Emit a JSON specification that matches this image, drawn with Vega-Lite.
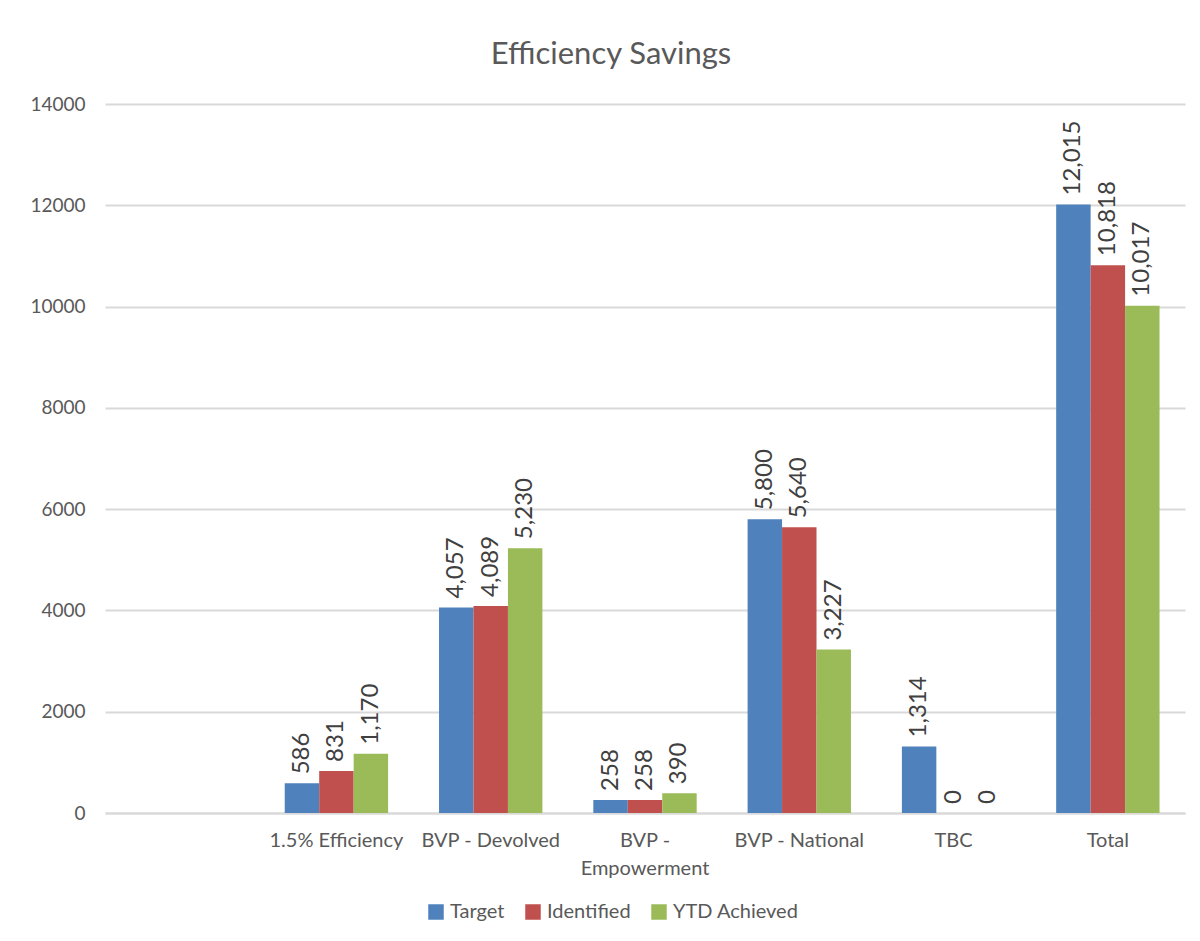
{
  "$schema": "https://vega.github.io/schema/vega-lite/v6.json",
  "width": 1080,
  "height": 709,
  "autosize": {"type": "none"},
  "padding": {"left": 105, "top": 104, "right": 15, "bottom": 128},
  "background": "white",
  "config": {
    "font": "Lato",
    "view": {"stroke": null}
  },
  "title": {
    "text": "Efficiency Savings",
    "fontSize": 31,
    "fontWeight": "normal",
    "color": "#595959",
    "font": "Lato",
    "anchor": "middle",
    "dx": -34,
    "offset": 24
  },
  "data": {
    "values": [
      {"category": "1.5% Efficiency", "series": "Target", "value": 586},
      {"category": "1.5% Efficiency", "series": "Identified", "value": 831},
      {"category": "1.5% Efficiency", "series": "YTD Achieved", "value": 1170},
      {"category": "BVP - Devolved", "series": "Target", "value": 4057},
      {"category": "BVP - Devolved", "series": "Identified", "value": 4089},
      {"category": "BVP - Devolved", "series": "YTD Achieved", "value": 5230},
      {"category": "BVP - Empowerment", "series": "Target", "value": 258},
      {"category": "BVP - Empowerment", "series": "Identified", "value": 258},
      {"category": "BVP - Empowerment", "series": "YTD Achieved", "value": 390},
      {"category": "BVP - National", "series": "Target", "value": 5800},
      {"category": "BVP - National", "series": "Identified", "value": 5640},
      {"category": "BVP - National", "series": "YTD Achieved", "value": 3227},
      {"category": "TBC", "series": "Target", "value": 1314},
      {"category": "TBC", "series": "Identified", "value": 0},
      {"category": "TBC", "series": "YTD Achieved", "value": 0},
      {"category": "Total", "series": "Target", "value": 12015},
      {"category": "Total", "series": "Identified", "value": 10818},
      {"category": "Total", "series": "YTD Achieved", "value": 10017}
    ]
  },
  "encoding": {
    "x": {
      "field": "category",
      "type": "nominal",
      "scale": {
        "domain": ["", "1.5% Efficiency", "BVP - Devolved", "BVP - Empowerment", "BVP - National", "TBC", "Total"],
        "paddingInner": 0.33,
        "paddingOuter": 0.165
      },
      "axis": {
        "title": null,
        "labelAngle": 0,
        "labelFontSize": 20,
        "labelColor": "#595959",
        "labelFont": "Lato",
        "labelPadding": 17,
        "labelLineHeight": 28,
        "ticks": false,
        "domain": true,
        "domainColor": "#d9d9d9",
        "domainWidth": 2,
        "labelExpr": "datum.value == 'BVP - Empowerment' ? ['BVP -', 'Empowerment'] : datum.value"
      }
    },
    "xOffset": {
      "field": "series",
      "type": "nominal",
      "sort": ["Target", "Identified", "YTD Achieved"],
      "scale": {"paddingInner": 0, "paddingOuter": 0}
    },
    "y": {
      "field": "value",
      "type": "quantitative",
      "scale": {"domain": [0, 14000], "nice": false},
      "axis": {
        "title": null,
        "values": [0, 2000, 4000, 6000, 8000, 10000, 12000, 14000],
        "format": "d",
        "labelFontSize": 19,
        "labelColor": "#595959",
        "labelFont": "Lato",
        "labelPadding": 20,
        "ticks": false,
        "domain": false,
        "grid": true,
        "gridColor": "#d9d9d9",
        "gridWidth": 2
      }
    }
  },
  "layer": [
    {
      "mark": {"type": "bar"},
      "encoding": {
        "color": {
          "field": "series",
          "type": "nominal",
          "scale": {
            "domain": ["Target", "Identified", "YTD Achieved"],
            "range": ["#4F81BD", "#C0504D", "#9BBB59"]
          },
          "legend": {
            "title": null,
            "orient": "none",
            "direction": "horizontal",
            "legendX": 321,
            "legendY": 798,
            "symbolType": "square",
            "symbolSize": 240,
            "symbolStrokeWidth": 0,
            "labelFontSize": 20,
            "labelColor": "#595959",
            "labelFont": "Lato",
            "columnPadding": 18,
            "labelOffset": 4
          }
        }
      }
    },
    {
      "mark": {
        "type": "text",
        "angle": 270,
        "align": "left",
        "baseline": "middle",
        "dx": 9,
        "fontSize": 24,
        "color": "#404040",
        "font": "Lato"
      },
      "encoding": {
        "text": {"field": "value", "type": "quantitative", "format": ","}
      }
    }
  ]
}
